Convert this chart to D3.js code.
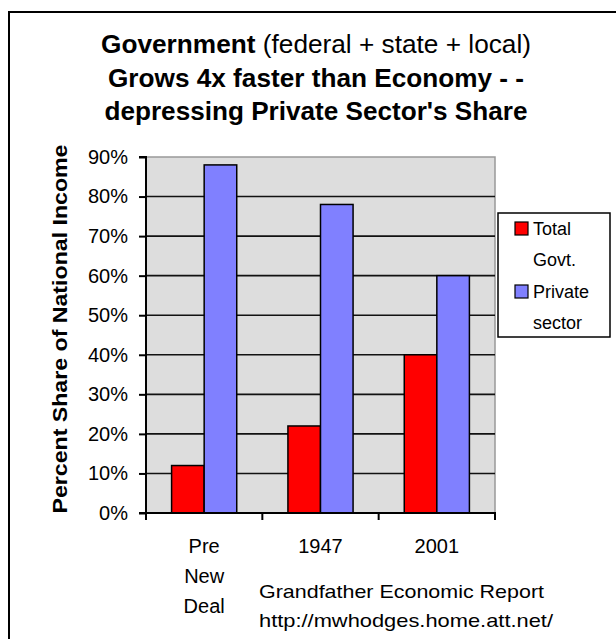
<html>
<head>
<script src="https://d3js.org/d3.v7.min.js"></script>
<style>
  body { margin: 0; background: #fff; }
  text { font-family: 'Liberation Sans', Arial, sans-serif; fill: #000; }
</style>
</head>
<body>
<svg width="616" height="639"></svg>
<script>
// data
const categories = ['Pre New Deal', '1947', '2001'];
const categoryLines = [['Pre', 'New', 'Deal'], ['1947'], ['2001']];
const seriesNames = ['Total Govt.', 'Private sector'];
const govtShare = [0.12, 0.22, 0.40];
const privateShare = [0.88, 0.78, 0.60];
const yTicks = [0, 0.1, 0.2, 0.3, 0.4, 0.5, 0.6, 0.7, 0.8, 0.9];
const legendLines = [['Total', 'Govt.'], ['Private', 'sector']];
const colors = ['#ff0000', '#8080ff'];

const rows = categories.map((c, i) => ({ cat: c, values: [govtShare[i], privateShare[i]] }));

const svg = d3.select('svg');

// outer frame (runs off the bottom and right of the picture)
svg.append('rect')
  .attr('x', 9).attr('y', 12)
  .attr('width', 640).attr('height', 660)
  .attr('fill', 'none').attr('stroke', '#000').attr('stroke-width', 2);

// title
const title = svg.append('g').attr('text-anchor', 'middle');
const t1 = title.append('text').attr('x', 316).attr('y', 53)
  .attr('font-size', 25).attr('textLength', 430).attr('lengthAdjust', 'spacingAndGlyphs');
t1.append('tspan').attr('font-weight', 'bold').text('Government');
t1.append('tspan').text(' (federal + state + local)');
title.append('text').attr('x', 316).attr('y', 87)
  .attr('font-size', 25).attr('font-weight', 'bold')
  .attr('textLength', 416).attr('lengthAdjust', 'spacingAndGlyphs')
  .text('Grows 4x faster than Economy - -');
title.append('text').attr('x', 316).attr('y', 120)
  .attr('font-size', 25).attr('font-weight', 'bold')
  .attr('textLength', 423).attr('lengthAdjust', 'spacingAndGlyphs')
  .text("depressing Private Sector's Share");

// scales
const pLeft = 146, pRight = 495, pTop = 157, pBottom = 513;
const x = d3.scaleBand().domain(categories).range([pLeft, pRight]);
const groupW = x.bandwidth() * 0.56;
const x1 = d3.scaleBand().domain(seriesNames)
  .range([(x.bandwidth() - groupW) / 2, (x.bandwidth() + groupW) / 2]);
const y = d3.scaleLinear().domain([0, 0.9]).range([pBottom, pTop]);

// plot area
svg.append('rect')
  .attr('x', pLeft).attr('y', pTop)
  .attr('width', pRight - pLeft).attr('height', pBottom - pTop)
  .attr('fill', '#dddddd').attr('stroke', '#999').attr('stroke-width', 1.5);

// gridlines
svg.append('g').selectAll('line')
  .data(yTicks.filter(d => d > 0 && d < 0.9))
  .join('line')
  .attr('x1', pLeft).attr('x2', pRight)
  .attr('y1', d => y(d)).attr('y2', d => y(d))
  .attr('stroke', '#111').attr('stroke-width', 1.6);

// bars
svg.append('g').selectAll('g')
  .data(rows)
  .join('g')
  .attr('transform', d => `translate(${x(d.cat)},0)`)
  .selectAll('rect')
  .data(d => d.values.map((v, i) => ({ key: seriesNames[i], v, i })))
  .join('rect')
  .attr('x', d => x1(d.key))
  .attr('width', x1.bandwidth())
  .attr('y', d => y(d.v))
  .attr('height', d => y(0) - y(d.v))
  .attr('fill', d => colors[d.i])
  .attr('stroke', '#000').attr('stroke-width', 1.5);

// y axis
const yAxis = d3.axisLeft(y)
  .tickValues(yTicks)
  .tickFormat(d3.format('.0%'))
  .tickSize(7).tickPadding(11);
const ya = svg.append('g').attr('transform', `translate(${pLeft},0)`).call(yAxis);
ya.select('.domain').attr('stroke', '#000').attr('stroke-width', 2).attr('d', `M-7,${pTop}H0V${pBottom}H-7`);
ya.selectAll('.tick line').attr('stroke', '#000').attr('stroke-width', 2);
ya.selectAll('.tick text').attr('font-size', 20).attr('font-family', null).attr('fill', '#111');

// x axis
const xa = svg.append('g').attr('transform', `translate(0,${pBottom})`);
xa.append('line').attr('x1', pLeft).attr('x2', pRight + 1)
  .attr('stroke', '#000').attr('stroke-width', 2);
xa.selectAll('.xt')
  .data(categories.map(c => x(c)).concat([pRight]))
  .join('line').attr('class', 'xt')
  .attr('x1', d => d).attr('x2', d => d)
  .attr('y1', 0).attr('y2', 7)
  .attr('stroke', '#000').attr('stroke-width', 2);
xa.selectAll('.lab')
  .data(categories)
  .join('text').attr('class', 'lab')
  .attr('text-anchor', 'middle')
  .attr('font-size', 20).attr('fill', '#111')
  .attr('transform', d => `translate(${x(d) + x.bandwidth() / 2},40)`)
  .selectAll('tspan')
  .data((d, i) => categoryLines[i])
  .join('tspan')
  .attr('x', 0)
  .attr('y', (d, i) => i * 30)
  .text(d => d);

// y axis title
svg.append('text')
  .attr('transform', 'translate(67,329) rotate(-90)')
  .attr('text-anchor', 'middle')
  .attr('font-size', 20).attr('font-weight', 'bold')
  .attr('textLength', 369).attr('lengthAdjust', 'spacingAndGlyphs')
  .text('Percent Share of National Income');

// legend
const lg = svg.append('g');
lg.append('rect')
  .attr('x', 498).attr('y', 213).attr('width', 112).attr('height', 124)
  .attr('fill', '#fff').attr('stroke', '#000').attr('stroke-width', 1.5);
const items = lg.selectAll('.item')
  .data(seriesNames)
  .join('g').attr('class', 'item')
  .attr('transform', (d, i) => `translate(515,${222 + i * 63})`);
items.append('rect')
  .attr('width', 13).attr('height', 13)
  .attr('fill', (d, i) => colors[i])
  .attr('stroke', '#000').attr('stroke-width', 1.2);
items.append('text')
  .attr('font-size', 18).attr('fill', '#111')
  .selectAll('tspan')
  .data((d, i) => legendLines[i])
  .join('tspan')
  .attr('x', 18)
  .attr('y', (d, i) => 13 + i * 31)
  .text(d => d);

// source note
const note = svg.append('g');
note.append('text').attr('x', 259).attr('y', 598)
  .attr('font-size', 19).attr('fill', '#111')
  .attr('textLength', 285).attr('lengthAdjust', 'spacingAndGlyphs')
  .text('Grandfather Economic Report');
note.append('text').attr('x', 259).attr('y', 627)
  .attr('font-size', 19).attr('fill', '#111')
  .attr('textLength', 294).attr('lengthAdjust', 'spacingAndGlyphs')
  .text('http://mwhodges.home.att.net/');
</script>
</body>
</html>
